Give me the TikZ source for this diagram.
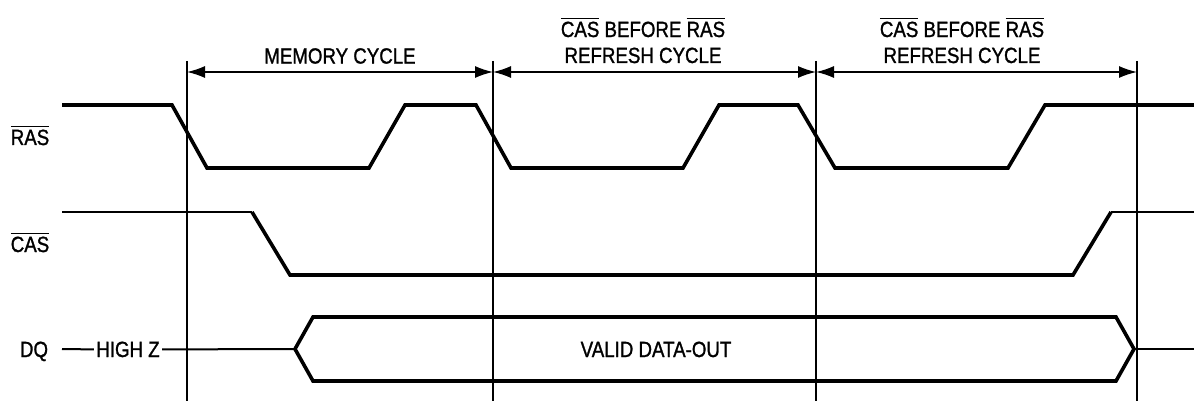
\documentclass[tikz,border=0pt]{standalone}
\usepackage{fontspec}
\setmainfont{Liberation Sans}[FakeStretch=0.85,FakeBold=1.2]
\usetikzlibrary{arrows.meta}
\newcommand{\ovl}[1]{$\overline{\mbox{#1}}$}
\begin{document}
\begin{tikzpicture}[x=0.5pt,y=-0.5pt,
  sig/.style={line width=1.8pt},
  thinsig/.style={line width=1pt},
  marker/.style={line width=0.7pt},
  span/.style={line width=0.7pt,{Latex[length=9pt,width=6pt]}-{Latex[length=9pt,width=6pt]}},
  lbl/.style={font=\fontsize{11}{13}\selectfont,inner sep=0pt,align=center}]
\useasboundingbox (0,0) rectangle (1194,401);
% cycle boundaries
\foreach \x/\n in {187/a,493/b,816/c,1137/d} {
  \coordinate (t\n) at (\x,61);
  \coordinate (m\n) at (\x,72);
  \draw [marker] (t\n) -- (\x,401);
}
\draw [span] (ma) -- (mb);
\draw [span] (mb) -- (mc);
\draw [span] (mc) -- (md);
\node [lbl] (memcyc) at (340,56) {MEMORY CYCLE};
\node [lbl,anchor=base] (refa) at (643,63) {\ovl{CAS} BEFORE \ovl{RAS}\\REFRESH CYCLE};
\node [lbl,anchor=base] (refb) at (962,63) {\ovl{CAS} BEFORE \ovl{RAS}\\REFRESH CYCLE};
% signal names
\node [lbl,anchor=base] (ras) at (30,145) {\ovl{RAS}};
\node [lbl,anchor=base] (cas) at (30,252) {\ovl{CAS}};
\node [lbl,anchor=base] (dq) at (34,357) {DQ};
% RAS
\draw [sig] (62,105) -- (172,105) -- (207,168) -- (369,168) -- (405,105) -- (476,105) -- (511,168)
  -- (683,168) -- (719,105) -- (798,105) -- (835,168) -- (1008,168) -- (1045,105) -- (1194,105);
% CAS
\draw [thinsig] (62,212) -- (252,212);
\draw [sig] (252,212) -- (290,275) -- (1073,275) -- (1111,212);
\draw [thinsig] (1111,212) -- (1194,212);
% DQ
\node [lbl,anchor=base,inner xsep=1pt] (hiz) at (128,357) {HIGH Z};
\draw [thinsig] (62,349) -- (hiz.west);
\draw [thinsig] (hiz.east) -- (295,349);
\draw [sig] (295,349) -- (313,317) -- (1116,317) -- (1134,349) -- (1116,381) -- (313,381) -- cycle;
\draw [thinsig] (1134,349) -- (1194,349);
\node [lbl,anchor=base] (valid) at (656,357) {VALID DATA-OUT};
\end{tikzpicture}
\end{document}
